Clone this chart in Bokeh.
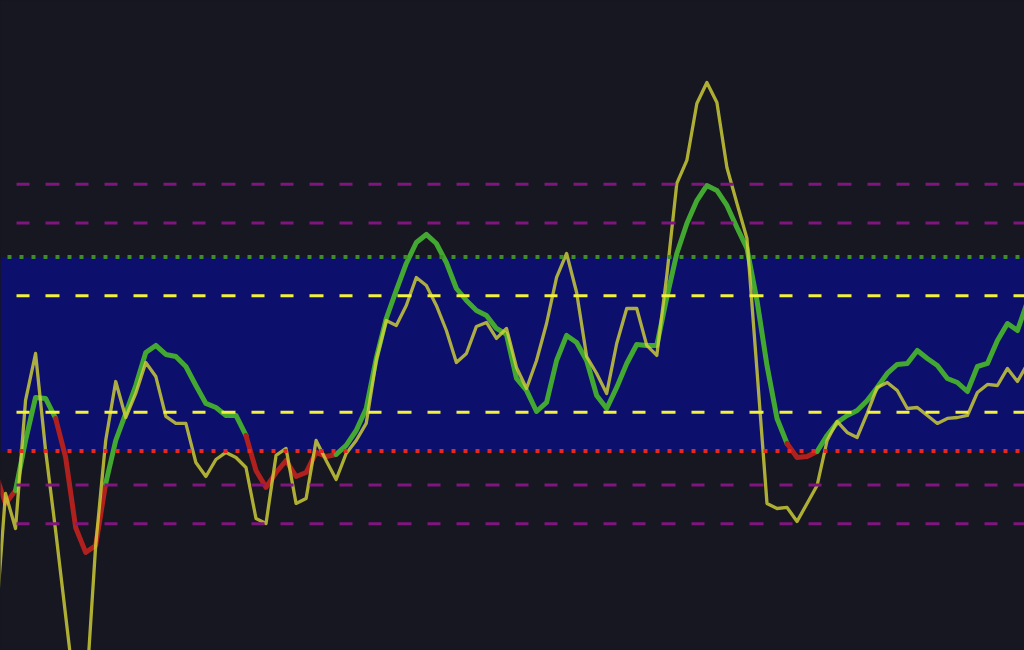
from bokeh.plotting import figure
from bokeh.models import Span, BoxAnnotation, Range1d, ColumnDataSource
from bokeh.embed import file_html
from bokeh.resources import INLINE

# ---- data (bar index, fast oscillator, smoothed oscillator, trend state) ----
bars = list(range(-1, 103))

fast = [
    -282.0, -143.8, -179.9, -47.9, 0.5, -99.5, -182.0, -269.6, -357.2, -357.2,
    -197.4, -89.2, -28.4, -65.5, -40.7, -8.8, -23.2, -64.4, -71.6, -71.6,
    -111.9, -126.3, -108.8, -101.5, -106.7, -117.0, -169.6, -174.7, -104.6, -97.4,
    -154.1, -149.0, -89.2, -109.8, -129.4, -102.6, -89.2, -71.6, -6.7, 34.5,
    29.4, 50.0, 78.9, 70.6, 50.0, 24.2, -8.8, 0.5, 28.4, 32.5,
    16.0, 26.3, -13.9, -35.6, -6.7, 31.4, 78.9, 103.6, 63.4, -2.6,
    -20.1, -40.7, 10.8, 46.9, 46.9, 8.8, -1.5, 80.9, 175.8, 199.5,
    258.2, 279.9, 259.3, 192.3, 155.2, 119.1, -17.0, -154.1, -159.3, -158.2,
    -172.7, -154.1, -135.6, -89.2, -69.6, -80.9, -86.1, -61.3, -34.5, -29.4,
    -37.6, -56.2, -55.2, -63.4, -71.6, -66.5, -65.5, -63.4, -39.7, -31.4,
    -32.5, -14.9, -28.4, -9.8,
]

slow = [
    -123.2, -154.1, -140.7, -89.2, -44.8, -45.9, -66.5, -106.7, -178.9, -204.6,
    -197.4, -133.5, -89.2, -61.3, -32.5, 1.5, 8.8, -0.5, -2.6, -12.9,
    -32.5, -51.0, -55.2, -63.4, -63.4, -84.0, -120.1, -137.6, -122.2, -109.8,
    -126.3, -122.2, -101.5, -105.7, -103.6, -94.3, -78.9, -56.2, -4.6, 36.6,
    65.5, 93.3, 114.9, 123.2, 113.9, 94.3, 67.5, 55.2, 44.8, 39.7,
    26.3, 20.1, -25.3, -37.6, -59.3, -50.0, -6.7, 19.1, 11.9, -6.7,
    -42.8, -56.2, -34.5, -9.8, 9.8, 8.8, 8.8, 58.2, 103.6, 134.5,
    158.2, 173.7, 168.6, 153.1, 130.4, 108.8, 55.2, -11.9, -66.5, -92.3,
    -106.7, -105.7, -100.5, -84.0, -70.6, -63.4, -58.2, -47.9, -34.5, -20.1,
    -10.8, -9.8, 3.6, -4.6, -11.9, -25.3, -29.4, -38.7, -12.9, -9.8,
    13.9, 31.4, 24.2, 54.1,
]

# 1 = bullish (green), -1 = bearish (red); applies to the segment starting at that bar
signal = [
    -1, -1, 1, 1, 1, 1, -1, -1, -1, -1,
    -1, 1, 1, 1, 1, 1, 1, 1, 1, 1,
    1, 1, 1, 1, 1, -1, -1, -1, -1, -1,
    -1, -1, -1, -1, 1, 1, 1, 1, 1, 1,
    1, 1, 1, 1, 1, 1, 1, 1, 1, 1,
    1, 1, 1, 1, 1, 1, 1, 1, 1, 1,
    1, 1, 1, 1, 1, 1, 1, 1, 1, 1,
    1, 1, 1, 1, 1, 1, 1, 1, 1, -1,
    -1, -1, 1, 1, 1, 1, 1, 1, 1, 1,
    1, 1, 1, 1, 1, 1, 1, 1, 1, 1,
    1, 1, 1, 1,
]

band = (-100, 100)
outer_levels = [175, 135, -135, -175]
mid_levels = [60, -60]
upper_dot = 100
lower_dot = -100

# ---- style ----
BG = "#161720"
BAND = "#0d0f6c"
PURPLE = "#80157f"
YELLOW = "#f2f23a"
GREEN_DOT = "#3f8c2c"
RED_DOT = "#e6281e"
GREEN = "#42a832"
RED = "#b0201e"
OLIVE = "#d4d43a"
DASH = "13 16 13 16 14 16"

p = figure(width=1024, height=650, output_backend="svg", toolbar_location=None,
           x_range=Range1d(-0.5, 101.7), y_range=Range1d(-305.7, 364.4),
           x_axis_location=None, y_axis_location=None, min_border=0,
           background_fill_color=BG, border_fill_color=BG, outline_line_color=None)
p.grid.visible = False
p.styles = {"background-color": BG}

p.add_layout(BoxAnnotation(bottom=band[0], top=band[1], fill_color=BAND, fill_alpha=1.0,
                           line_color=None, level="underlay"))

# smoothed line, coloured by trend state
xs_runs, ys_runs, cols = [], [], []
cur_x, cur_y, cur_s = [bars[0]], [slow[0]], signal[0]
for k in range(1, len(bars)):
    cur_x.append(bars[k])
    cur_y.append(slow[k])
    if k < len(bars) - 1 and signal[k] != cur_s:
        xs_runs.append(cur_x); ys_runs.append(cur_y); cols.append(GREEN if cur_s > 0 else RED)
        cur_x, cur_y, cur_s = [bars[k]], [slow[k]], signal[k]
xs_runs.append(cur_x); ys_runs.append(cur_y); cols.append(GREEN if cur_s > 0 else RED)

p.multi_line(xs="xs", ys="ys", line_color="c", line_width=5, line_join="round", line_cap="round",
             source=ColumnDataSource(dict(xs=xs_runs, ys=ys_runs, c=cols)))

p.line(bars, fast, line_color=OLIVE, line_width=3.3, line_alpha=0.8, line_join="round")

for lv in outer_levels:
    p.add_layout(Span(location=lv, dimension="width", line_color=PURPLE, line_width=3,
                      line_dash=DASH, line_dash_offset=13))
for lv in mid_levels:
    p.add_layout(Span(location=lv, dimension="width", line_color=YELLOW, line_width=3,
                      line_dash=DASH, line_dash_offset=13))
p.add_layout(Span(location=upper_dot, dimension="width", line_color=GREEN_DOT, line_width=4,
                  line_dash="4 8", line_dash_offset=5))
p.add_layout(Span(location=lower_dot, dimension="width", line_color=RED_DOT, line_width=4,
                  line_dash="4 8", line_dash_offset=5))

open("out.html", "w").write(file_html(p, INLINE))
